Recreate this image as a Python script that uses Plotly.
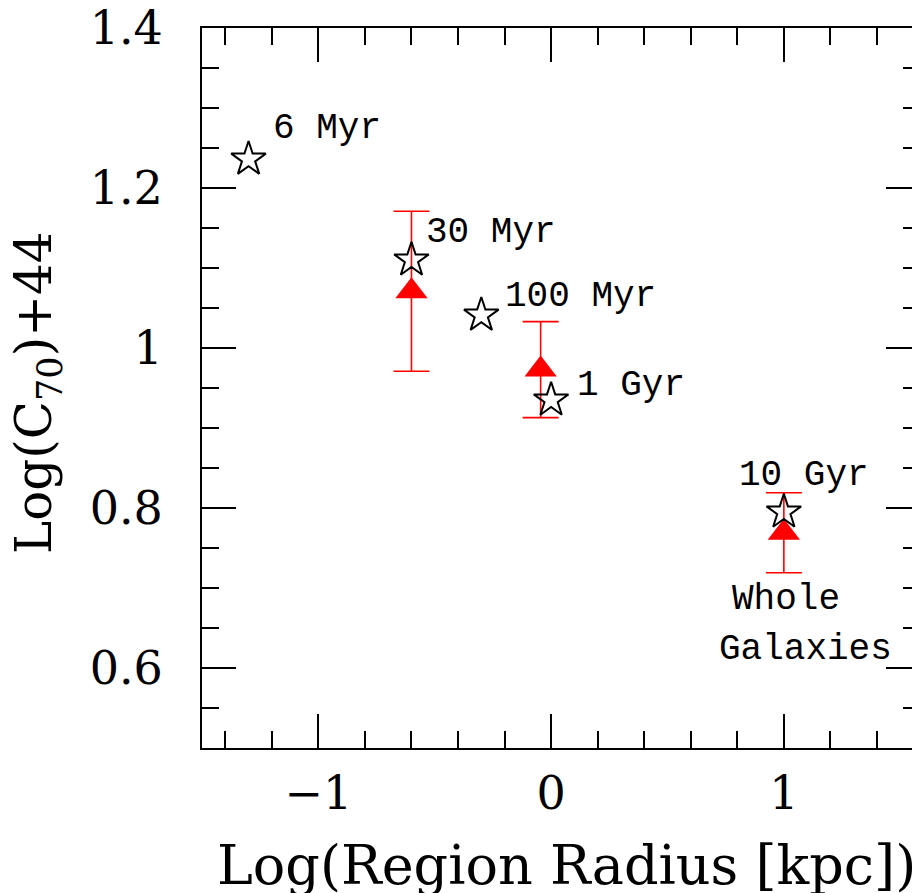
import plotly.graph_objects as go

# ---- data ----
star_x = [-1.30, -0.60, -0.30, 0.00, 1.00]
star_y = [1.236, 1.110, 1.041, 0.935, 0.795]
star_labels = ["6 Myr", "30 Myr", "100 Myr", "1 Gyr", "10 Gyr"]

tri_x = [-0.60, -0.045, 1.00]
tri_y = [1.071, 0.973, 0.769]
tri_err = [0.100, 0.060, 0.050]

whole_label = ["Whole", "Galaxies"]

# ---- label pixel offsets (layout) ----
star_label_shift = [(22, 31), (13, 28), (22, 19), (24, 15), (-47, 37)]
whole_shift = [(-54, -67), (-67, -117)]

fig = go.Figure()

fig.add_trace(go.Scatter(
    x=tri_x, y=tri_y, mode="markers",
    marker=dict(symbol="triangle-up", size=28, color="#ff0000", line=dict(width=0)),
    error_y=dict(type="data", array=tri_err, visible=True, color="#ff0000",
                 thickness=1.6, width=18),
    showlegend=False,
))

fig.add_trace(go.Scatter(
    x=star_x, y=star_y, mode="markers",
    marker=dict(symbol="star-open", size=26, color="black", line=dict(width=2, color="black")),
    showlegend=False,
))

lab_font = dict(family="Liberation Mono", size=36, color="black")
for xv, yv, t, (dx, dy) in zip(star_x, star_y, star_labels, star_label_shift):
    fig.add_annotation(x=xv, y=yv, text=t, showarrow=False, xanchor="left",
                       yanchor="middle", xshift=dx, yshift=dy, font=lab_font)
for t, (dx, dy) in zip(whole_label, whole_shift):
    fig.add_annotation(x=tri_x[-1], y=tri_y[-1], text=t, showarrow=False, xanchor="left",
                       yanchor="middle", xshift=dx, yshift=dy, font=lab_font)

tick_font = dict(family="DejaVu Serif", size=46, color="black")
fig.update_xaxes(
    range=[-1.5, 1.585], dtick=1, tick0=0, ticks="inside", ticklen=34, tickwidth=2,
    tickcolor="black", showline=True, linewidth=2, linecolor="black", mirror="ticks",
    showgrid=False, zeroline=False, tickfont=tick_font, automargin=False,
    minor=dict(dtick=0.2, tick0=0, ticks="inside", ticklen=17, tickwidth=2, tickcolor="black",
               showgrid=False),
    ticklabelstandoff=4, ticklabeloverflow="allow",
)
fig.update_yaxes(
    range=[0.5, 1.4], dtick=0.2, tick0=0.6, ticks="inside", ticklen=34, tickwidth=2,
    tickcolor="black", showline=True, linewidth=2, linecolor="black", mirror="ticks",
    showgrid=False, zeroline=False, tickfont=tick_font, automargin=False,
    minor=dict(dtick=0.05, tick0=0.5, ticks="inside", ticklen=17, tickwidth=2, tickcolor="black",
               showgrid=False),
    ticklabelstandoff=28, ticklabeloverflow="allow",
)

title_font = dict(family="DejaVu Serif", size=54, color="black")
fig.add_annotation(xref="paper", yref="paper", x=0.507, y=-0.163, text="Log(Region Radius [kpc])",
                   showarrow=False, xanchor="center", yanchor="middle", font=title_font)
fig.add_annotation(xref="paper", yref="paper", x=-0.2284, y=0.4931, text="Log(C<sub>70</sub>)+44",
                   showarrow=False, xanchor="center", yanchor="middle", textangle=-90,
                   font=dict(family="DejaVu Serif", size=50, color="black"))

fig.update_layout(
    width=912, height=885,
    margin=dict(l=194, r=0, t=20, b=145),
    paper_bgcolor="white", plot_bgcolor="white",
)

fig.write_html("out.html")
